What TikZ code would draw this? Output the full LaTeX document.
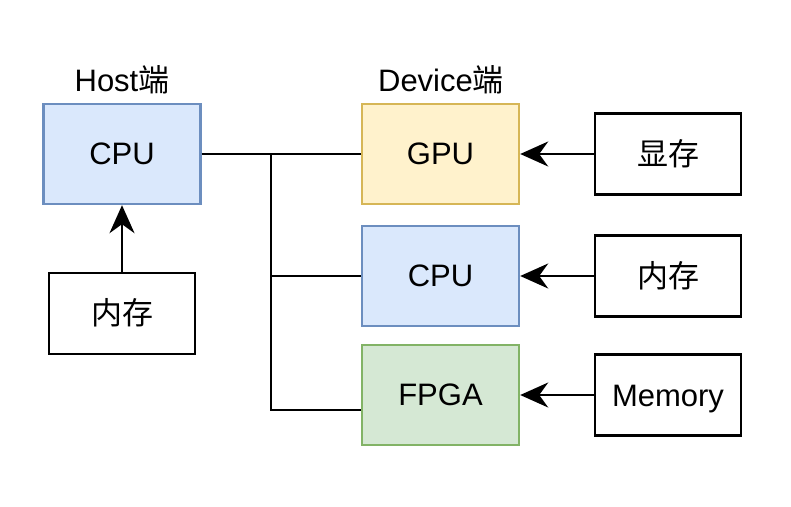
\documentclass[tikz,border=0pt]{standalone}
\usepackage{fontspec}
\setmainfont{Liberation Sans}
\newfontfamily\cjk{Noto Sans CJK SC}
\usetikzlibrary{arrows.meta, calc}

\definecolor{blueFill}{HTML}{DAE8FC}
\definecolor{blueLine}{HTML}{6C8EBF}
\definecolor{yellowFill}{HTML}{FFF2CC}
\definecolor{yellowLine}{HTML}{D6B656}
\definecolor{greenFill}{HTML}{D5E8D4}
\definecolor{greenLine}{HTML}{82B366}

\begin{document}
\begin{tikzpicture}[x=1pt, y=1pt, >={Stealth[length=28pt, width=25pt, inset=9pt]}]
\tikzset{
  unit/.style={draw, line width=2.4pt, minimum width=157pt, minimum height=100pt,
               text height=21pt, text depth=0pt, font=\fontsize{31}{36}\selectfont},
  memory/.style={draw, line width=2.6pt, fill=white, minimum width=146pt, minimum height=81pt,
               text height=22pt, text depth=0pt, font=\fontsize{31}{36}\selectfont},
  side/.style={font=\fontsize{31}{36}\selectfont},
  link/.style={line width=2.2pt}
  };

\useasboundingbox (0,0) rectangle (791,-506);

\node[side] (HL) at (122,-80)  {Host{\cjk 端}};
\node[side] (DL) at (441,-80)  {Device{\cjk 端}};

\node[unit, fill=blueFill, draw=blueLine] (HCPU) at (122,-154) {CPU};
\node[memory] (HMEM) at (122,-313.5) {\cjk 内存};

\node[unit, fill=yellowFill, draw=yellowLine] (GPU)  at (440.5,-154) {GPU};
\node[unit, fill=blueFill, draw=blueLine]     (DCPU) at (440.5,-276) {CPU};
\node[unit, fill=greenFill, draw=greenLine]   (FPGA) at (440.5,-395) {FPGA};

\node[memory] (VMEM) at (668,-154) {\cjk 显存};
\node[memory] (DMEM) at (668,-276) {\cjk 内存};
\node[memory] (MEM)  at (668,-395) {Memory};

\coordinate (bus) at (271,-154);

\draw[link] (HCPU) -- (GPU);
\draw[link] (bus) |- ([yshift=-15pt]FPGA.west);
\draw[link] (bus |- DCPU.west) -- (DCPU.west);

\draw[link, ->] (HMEM) -- (HCPU);
\draw[link, ->] (VMEM) -- (GPU);
\draw[link, ->] (DMEM) -- (DCPU);
\draw[link, ->] (MEM)  -- (FPGA);

\end{tikzpicture}
\end{document}
